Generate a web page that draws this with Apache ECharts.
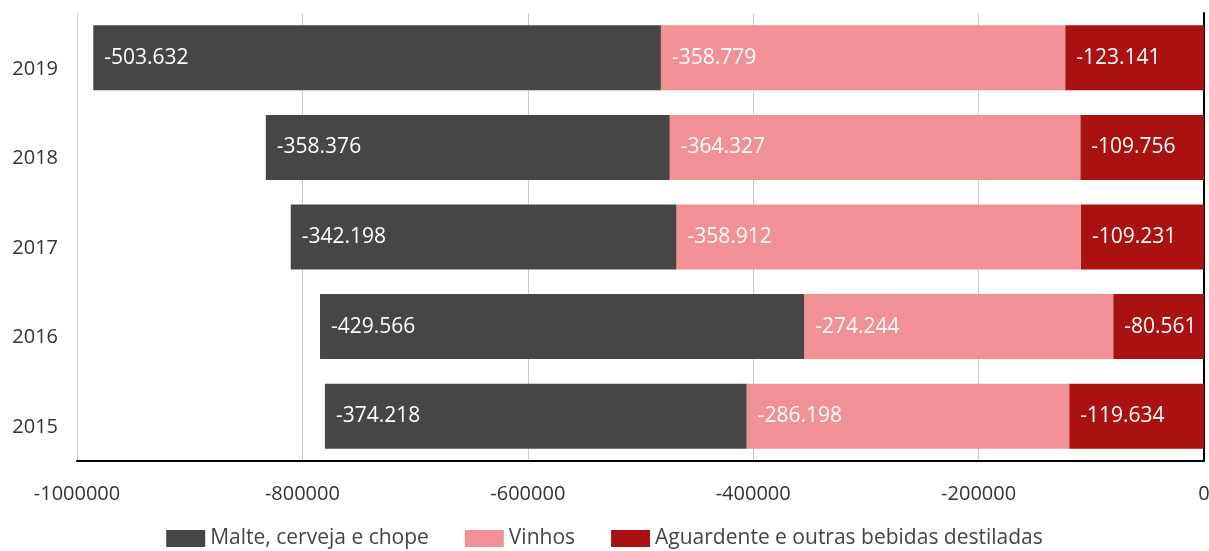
<!DOCTYPE html>
<html>
<head>
<meta charset="utf-8">
<script src="https://cdn.jsdelivr.net/npm/echarts@6/dist/echarts.min.js"></script>
<style>html,body{margin:0;padding:0;background:#fff}#c{width:1209px;height:551px}</style>
</head>
<body>
<div id="c"></div>
<script>
const years = ['2015','2016','2017','2018','2019'];
const malte = [-374218, -429566, -342198, -358376, -503632];
const vinhos = [-286198, -274244, -358912, -364327, -358779];
const aguardente = [-119634, -80561, -109231, -109756, -123141];
const xTicks = [-1000000, 0, 200000];

const FONT = '"Open Sans", sans-serif';
function fmt(v) {
  const s = Math.abs(v).toString().replace(/\B(?=(\d{3})+(?!\d))/g, '.');
  return (v < 0 ? '-' : '') + s;
}
const labelCfg = {
  show: true, position: 'insideLeft', distance: 11, color: '#fff',
  fontSize: 21, fontFamily: FONT,
  formatter: p => fmt(p.value)
};
function bar(name, data, color) {
  return {
    name, type: 'bar', stack: 'total', data, barWidth: 65,
    itemStyle: { color }, label: labelCfg, emphasis: { disabled: true }
  };
}
const chart = echarts.init(document.getElementById('c'), null, { renderer: 'canvas' });
chart.setOption({
  animation: false,
  textStyle: { fontFamily: FONT },
  grid: { left: 77, right: 5, top: 13, bottom: 90, containLabel: false, outerBoundsMode: 'none' },
  legend: {
    bottom: -3, left: 'center',
    data: ['Malte, cerveja e chope', 'Vinhos', 'Aguardente e outras bebidas destiladas'],
    itemWidth: 39, itemHeight: 17, itemGap: 36,
    icon: 'rect',
    textStyle: { fontSize: 21, color: '#444', fontFamily: FONT }
  },
  xAxis: {
    type: 'value', min: xTicks[0], max: xTicks[1], interval: xTicks[2],
    axisLine: { show: true, onZero: false, lineStyle: { color: '#000', width: 2 } },
    axisTick: { show: false },
    axisLabel: { fontSize: 20, color: '#333', margin: 23, fontFamily: FONT, formatter: v => String(v) },
    splitLine: { show: true, lineStyle: { color: '#ccc', width: 1 } }
  },
  yAxis: [{
    type: 'category', data: years,
    axisLine: { show: false, onZero: false },
    axisTick: { show: false },
    axisLabel: { fontSize: 20, color: '#333', margin: 19, fontFamily: FONT, verticalAlign: 'top', lineHeight: 22 }
  }, {
    type: 'category', data: years, position: 'right',
    axisLine: { show: true, onZero: false, lineStyle: { color: '#000', width: 2 } },
    axisTick: { show: false }, axisLabel: { show: false }
  }],
  series: [
    bar('Aguardente e outras bebidas destiladas', aguardente, '#aa1111'),
    bar('Vinhos', vinhos, '#f19195'),
    bar('Malte, cerveja e chope', malte, '#474546')
  ]
});
</script>
</body>
</html>
